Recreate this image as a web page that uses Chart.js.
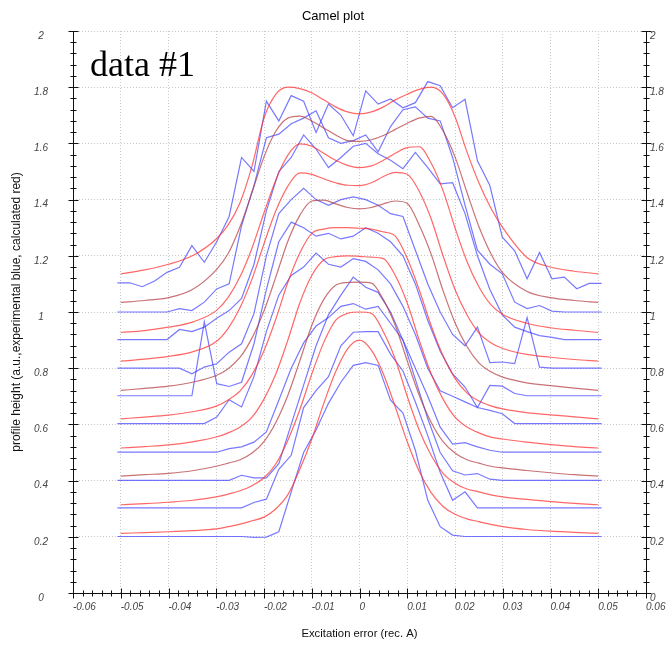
<!DOCTYPE html>
<html>
<head>
<meta charset="utf-8">
<script src="https://cdn.jsdelivr.net/npm/chart.js@4.4.1/dist/chart.umd.min.js"></script>
<style>
html, body { margin: 0; padding: 0; background: #fff; }
#wrap { width: 666px; height: 647px; position: relative; }
</style>
</head>
<body>
<div id="wrap"><canvas id="camel"></canvas></div>
<script>
// axis ranges
var xAxis = [-0.06, 0.06], xStep = 0.01;
var yAxis = [0, 2], yStep = 0.2;
var panelLabel = 'data #1';

// calculated profiles (red)
var calcX = [-0.05,-0.045,-0.04,-0.035,-0.03,-0.0275,-0.025,-0.0225,-0.02,-0.0175,-0.015,-0.0125,-0.01,-0.0075,-0.005,-0.0025,0,0.0025,0.005,0.0075,0.01,0.0125,0.015,0.0175,0.02,0.0225,0.025,0.0275,0.03,0.035,0.04,0.045,0.05];
var calc0 = [0.212,0.215,0.218,0.222,0.228,0.236,0.245,0.257,0.27,0.30,0.35,0.44,0.547,0.674,0.787,0.869,0.90,0.864,0.779,0.662,0.538,0.433,0.357,0.308,0.28,0.264,0.254,0.244,0.236,0.226,0.22,0.216,0.212];
var calc1 = [0.314,0.318,0.323,0.33,0.342,0.352,0.364,0.382,0.41,0.46,0.544,0.652,0.779,0.891,0.97,0.995,1.0,0.995,0.93,0.832,0.70,0.58,0.49,0.426,0.391,0.37,0.36,0.349,0.342,0.333,0.325,0.319,0.314];
var calc2 = [0.416,0.421,0.426,0.435,0.451,0.462,0.474,0.498,0.539,0.608,0.704,0.826,0.952,1.044,1.095,1.105,1.106,1.103,1.044,0.952,0.826,0.704,0.608,0.539,0.498,0.474,0.462,0.451,0.445,0.436,0.428,0.421,0.416];
var calc3 = [0.516,0.521,0.527,0.538,0.555,0.57,0.591,0.626,0.69,0.78,0.90,1.032,1.13,1.185,1.197,1.20,1.198,1.195,1.19,1.13,1.032,0.90,0.78,0.69,0.626,0.591,0.57,0.555,0.548,0.537,0.528,0.521,0.516];
var calc4 = [0.62,0.626,0.633,0.645,0.665,0.687,0.719,0.777,0.862,0.976,1.106,1.21,1.28,1.295,1.30,1.30,1.298,1.295,1.285,1.27,1.191,1.079,0.952,0.844,0.764,0.712,0.683,0.666,0.655,0.642,0.634,0.627,0.62];
var calc5 = [0.721,0.728,0.736,0.75,0.774,0.798,0.839,0.908,1.004,1.126,1.252,1.344,1.395,1.398,1.385,1.372,1.367,1.372,1.385,1.395,1.386,1.31,1.206,1.076,0.962,0.877,0.819,0.787,0.768,0.748,0.738,0.729,0.721];
var calc6 = [0.825,0.832,0.842,0.858,0.895,0.942,1.016,1.118,1.243,1.361,1.448,1.495,1.49,1.474,1.46,1.451,1.45,1.46,1.482,1.497,1.49,1.43,1.332,1.20,1.08,0.99,0.926,0.891,0.87,0.849,0.839,0.831,0.825];
var calc7 = [0.927,0.934,0.946,0.964,1.005,1.052,1.126,1.228,1.353,1.471,1.558,1.598,1.59,1.565,1.54,1.522,1.514,1.52,1.54,1.565,1.585,1.588,1.53,1.432,1.30,1.18,1.09,1.026,0.991,0.96,0.944,0.935,0.927];
var calc8 = [1.034,1.041,1.051,1.08,1.15,1.208,1.304,1.426,1.552,1.644,1.69,1.697,1.68,1.655,1.63,1.61,1.607,1.613,1.628,1.65,1.672,1.69,1.696,1.644,1.552,1.426,1.304,1.208,1.139,1.074,1.051,1.041,1.034];
var calc9 = [1.136,1.15,1.17,1.20,1.26,1.31,1.39,1.52,1.69,1.775,1.80,1.795,1.78,1.755,1.73,1.712,1.705,1.712,1.73,1.755,1.775,1.792,1.80,1.775,1.695,1.57,1.46,1.37,1.30,1.195,1.16,1.145,1.136];

// experimental profiles (blue)
var expX = [-0.0507,-0.0481,-0.0455,-0.0429,-0.0403,-0.0377,-0.0351,-0.0325,-0.0299,-0.0273,-0.0247,-0.0221,-0.0195,-0.0169,-0.0143,-0.0117,-0.0091,-0.0065,-0.0039,-0.0013,0.0013,0.0039,0.0065,0.0091,0.0117,0.0143,0.0169,0.0195,0.0221,0.0247,0.0273,0.0299,0.0325,0.0351,0.0377,0.0403,0.0429,0.0455,0.0481,0.0507];
var exp0 = [0.201,0.201,0.201,0.201,0.201,0.201,0.201,0.201,0.201,0.201,0.201,0.198,0.199,0.218,0.36,0.50,0.58,0.675,0.75,0.81,0.82,0.81,0.686,0.64,0.508,0.33,0.236,0.206,0.201,0.201,0.201,0.201,0.201,0.201,0.201,0.201,0.201,0.201,0.201,0.201];
var exp1 = [0.303,0.303,0.303,0.303,0.303,0.303,0.303,0.303,0.303,0.303,0.303,0.322,0.334,0.44,0.49,0.66,0.72,0.77,0.88,0.928,0.93,0.93,0.85,0.79,0.68,0.56,0.43,0.33,0.36,0.303,0.303,0.303,0.303,0.303,0.303,0.303,0.303,0.303,0.303,0.303];
var exp2 = [0.401,0.401,0.401,0.401,0.401,0.401,0.401,0.401,0.401,0.401,0.419,0.41,0.41,0.46,0.60,0.74,0.88,0.99,1.06,1.124,1.088,1.07,1.00,0.90,0.76,0.62,0.50,0.435,0.42,0.425,0.405,0.401,0.401,0.401,0.401,0.401,0.401,0.401,0.401,0.401];
var exp3 = [0.501,0.501,0.501,0.501,0.501,0.501,0.501,0.501,0.501,0.514,0.52,0.537,0.573,0.686,0.80,0.89,0.95,0.98,1.02,1.03,1.01,1.02,0.96,0.90,0.80,0.70,0.59,0.53,0.535,0.52,0.508,0.501,0.501,0.501,0.501,0.501,0.501,0.501,0.501,0.501];
var exp4 = [0.603,0.603,0.603,0.603,0.603,0.603,0.603,0.603,0.626,0.688,0.662,0.77,0.93,1.06,1.13,1.16,1.21,1.17,1.16,1.19,1.18,1.15,1.10,1.02,0.92,0.80,0.72,0.70,0.68,0.66,0.65,0.638,0.603,0.603,0.603,0.603,0.603,0.603,0.603,0.603];
var exp5 = [0.702,0.702,0.702,0.702,0.702,0.702,0.702,0.965,0.745,0.735,0.75,0.887,1.08,1.25,1.32,1.30,1.27,1.28,1.26,1.27,1.30,1.28,1.25,1.20,1.10,0.97,0.86,0.78,0.733,0.66,0.739,0.736,0.71,0.702,0.702,0.702,0.702,0.702,0.702,0.702];
var exp6 = [0.80,0.80,0.80,0.80,0.80,0.80,0.78,0.804,0.816,0.857,0.887,0.994,1.20,1.35,1.40,1.44,1.40,1.38,1.40,1.41,1.40,1.38,1.35,1.34,1.22,1.10,1.00,0.92,0.88,0.946,0.82,0.822,0.816,0.98,0.804,0.80,0.80,0.80,0.80,0.80];
var exp7 = [0.902,0.902,0.902,0.902,0.902,0.938,0.93,0.946,0.978,1.005,1.048,1.17,1.36,1.50,1.55,1.63,1.58,1.514,1.55,1.59,1.60,1.563,1.54,1.51,1.568,1.514,1.456,1.46,1.35,1.20,1.08,0.99,0.946,0.93,0.916,0.91,0.902,0.902,0.902,0.902];
var exp8 = [1.0,1.0,1.0,1.0,1.0,1.012,1.005,1.035,1.082,1.10,1.307,1.45,1.62,1.633,1.67,1.69,1.716,1.62,1.60,1.61,1.63,1.57,1.66,1.72,1.73,1.69,1.68,1.55,1.38,1.22,1.17,1.136,1.035,1.012,1.023,1.003,1.0,1.0,1.0,1.0];
var exp9 = [1.104,1.104,1.09,1.11,1.141,1.159,1.236,1.177,1.25,1.34,1.55,1.50,1.75,1.68,1.77,1.75,1.639,1.74,1.70,1.627,1.787,1.74,1.758,1.727,1.745,1.82,1.805,1.727,1.757,1.538,1.45,1.266,1.218,1.118,1.212,1.118,1.124,1.083,1.102,1.102];

var calcCurves = [calc0, calc1, calc2, calc3, calc4, calc5, calc6, calc7, calc8, calc9];
var expCurves = [exp0, exp1, exp2, exp3, exp4, exp5, exp6, exp7, exp8, exp9];

function punkte(xs, ys) {
    return xs.map(function (x, i) { return { x: x, y: ys[i] }; });
}

var datasets = [];
for (var i = 0; i < calcCurves.length; i++) {
    datasets.push({
        data: punkte(calcX, calcCurves[i]),
        borderColor: (i % 3 == 2) ? 'rgba(180,60,65,0.72)' : 'rgba(255,45,45,0.72)',
        borderWidth: 1.2,
        pointRadius: 0,
        cubicInterpolationMode: 'monotone'
    });
}
for (var i = 0; i < expCurves.length; i++) {
    datasets.push({
        data: punkte(expX, expCurves[i]),
        borderColor: 'rgba(50,50,255,0.66)',
        borderWidth: 1.2,
        pointRadius: 0,
        tension: 0
    });
}

// axes with crossing major / minor ticks, drawn over the curves
var achsenPlugin = {
    id: 'achsen',
    afterDatasetsDraw: function (chart) {
        var ctx = chart.ctx, a = chart.chartArea;
        var sx = chart.scales.x, sy = chart.scales.y;
        ctx.save();
        ctx.strokeStyle = '#111';
        ctx.lineWidth = 1;
        var l = Math.round(a.left) + 0.5, r = Math.round(a.right) + 0.5, b = Math.round(a.bottom) + 0.5;
        ctx.beginPath();
        ctx.moveTo(l, a.top); ctx.lineTo(l, b); ctx.lineTo(r, b); ctx.lineTo(r, a.top);
        for (var i = 0; i <= 60; i++) {
            var px = Math.round(sx.getPixelForValue(xAxis[0] + i * 0.002)) + 0.5;
            var len = (i % 5 == 0) ? 5 : 3;
            ctx.moveTo(px, b - len); ctx.lineTo(px, b + len);
        }
        for (var j = 0; j <= 50; j++) {
            var py = Math.round(sy.getPixelForValue(yAxis[0] + j * 0.04)) + 0.5;
            var len2 = (j % 5 == 0) ? 5 : 3;
            ctx.moveTo(l - len2, py); ctx.lineTo(l + len2, py);
            ctx.moveTo(r - len2, py); ctx.lineTo(r + len2, py);
        }
        ctx.stroke();
        ctx.fillStyle = '#000';
        ctx.font = '36px "Liberation Serif", "Times New Roman", serif';
        ctx.textBaseline = 'alphabetic';
        ctx.fillText(panelLabel, 90, 76);
        ctx.restore();
    }
};

var tickFont = { family: '"Liberation Sans", Arial, sans-serif', size: 10, style: 'italic' };

new Chart(document.getElementById('camel').getContext('2d'), {
    type: 'line',
    data: { datasets: datasets },
    options: {
        responsive: true,
        maintainAspectRatio: false,
        animation: false,
        layout: { padding: 0 },
        plugins: {
            legend: { display: false },
            tooltip: { enabled: false },
            title: {
                display: true,
                text: 'Camel plot',
                color: '#000',
                font: { family: '"Liberation Sans", Arial, sans-serif', size: 13, weight: 'normal' },
                padding: { top: 8, bottom: 6.4 }
            }
        },
        scales: {
            x: {
                type: 'linear',
                min: xAxis[0], max: xAxis[1],
                afterFit: function (s) { s.height = 54; s.paddingLeft = 0; s.paddingRight = 0; },
                ticks: {
                    stepSize: xStep, align: 'start', padding: 8, autoSkip: false,
                    maxRotation: 0, minRotation: 0, color: '#444', font: tickFont,
                    callback: function (v) { return String(Math.round(v * 1000) / 1000); }
                },
                grid: { color: '#c8c8c8', lineWidth: 1, drawTicks: false },
                border: { display: false, dash: [1, 2] },
                title: {
                    display: true, text: 'Excitation error (rec. A)', color: '#111',
                    font: { family: '"Liberation Sans", Arial, sans-serif', size: 11.3 },
                    padding: { top: 0, bottom: 6.2 }
                }
            },
            y: {
                type: 'linear', position: 'left',
                min: yAxis[0], max: yAxis[1],
                afterFit: function (s) { s.width = 73; },
                ticks: {
                    stepSize: yStep, crossAlign: 'center', padding: 25, labelOffset: 5,
                    color: '#444', font: tickFont,
                    callback: function (v) { return String(Math.round(v * 100) / 100); }
                },
                grid: { color: '#c8c8c8', lineWidth: 1, drawTicks: false },
                border: { display: false, dash: [1, 2] },
                title: {
                    display: true, text: 'profile height (a.u.,experimental blue, calculated red)', color: '#111',
                    font: { family: '"Liberation Sans", Arial, sans-serif', size: 12 },
                    padding: { top: 9.8, bottom: 0 }
                }
            },
            y2: {
                type: 'linear', position: 'right',
                min: yAxis[0], max: yAxis[1],
                afterFit: function (s) { s.width = 20; },
                ticks: {
                    stepSize: yStep, crossAlign: 'near', padding: 4, labelOffset: 5,
                    color: '#444', font: tickFont,
                    callback: function (v) { return String(Math.round(v * 100) / 100); }
                },
                grid: { display: false, drawTicks: false },
                border: { display: false }
            }
        }
    },
    plugins: [achsenPlugin]
});
</script>
</body>
</html>
